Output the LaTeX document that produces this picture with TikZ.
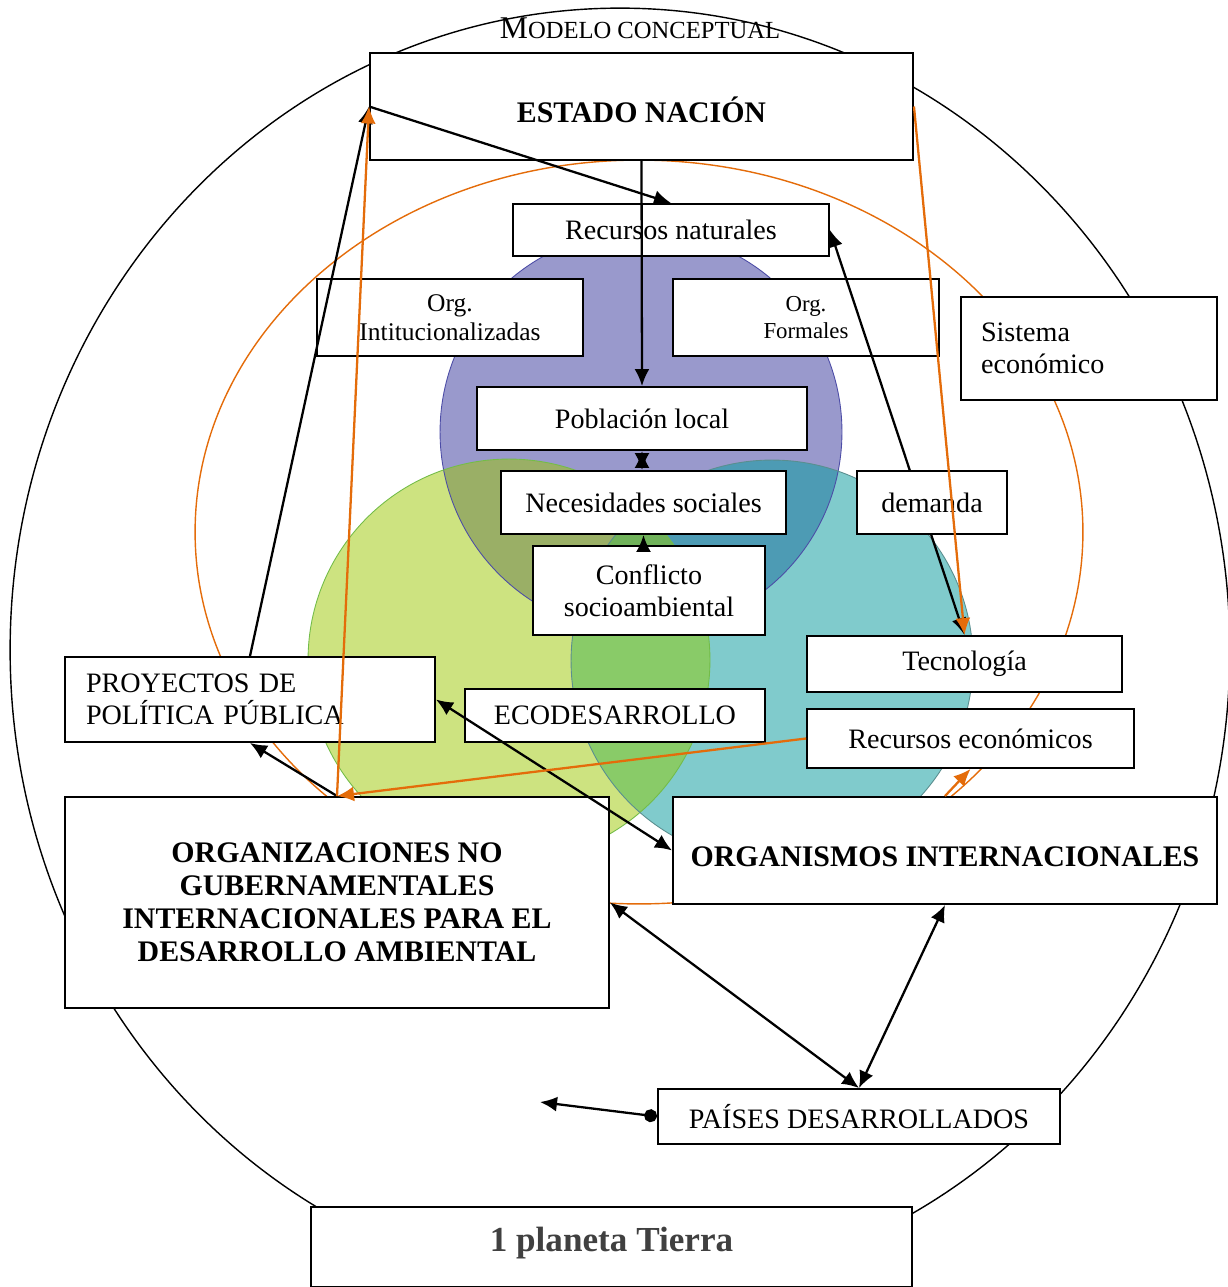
\documentclass[tikz,border=0pt]{standalone}
\usepackage{fontspec}
\setmainfont{Liberation Serif}
\usetikzlibrary{arrows.meta,calc}
\definecolor{naranja}{RGB}{228,108,10}
\definecolor{lila}{RGB}{153,153,204}
\definecolor{pasto}{RGB}{205,227,128}
\definecolor{turquesa}{RGB}{128,203,204}
\definecolor{oliva}{RGB}{154,175,102}
\definecolor{azulado}{RGB}{77,155,180}
\definecolor{verde}{RGB}{137,203,104}
\definecolor{centro}{RGB}{112,178,90}
\tikzset{
  caja/.style={draw,fill=white,line width=1.1pt,align=center,inner sep=2pt,font=\fontsize{16}{18.5}\selectfont},
  negrita/.style={font=\fontsize{17}{18.8}\selectfont\bfseries},
  enlace/.style={line width=1.3pt,>={Latex[length=0.34cm,width=0.3cm]}},
  naranjo/.style={enlace,draw=naranja},
  punto/.style={line width=1.3pt,{Circle[length=0.26cm]}-{Latex[length=0.34cm,width=0.3cm]}},
}

\begin{document}
\begin{tikzpicture}[x=0.02cm,y=-0.02cm]
\newcommand{\caja}[6][]{\node[caja,minimum width=#5*0.02cm,minimum height=#6*0.02cm,#1] (#2) at (#3,#4)}
\useasboundingbox (0,0) rectangle (1227,1287);
\draw[line width=0.8pt] (620,650) ellipse [x radius=12.2cm,y radius=12.84cm];
\draw[naranja,line width=0.8pt] (639,532) ellipse [x radius=8.88cm,y radius=7.44cm];
\fill[lila] (641,432) circle [radius=4.02cm];
\fill[pasto] (509,660) circle [radius=4.02cm];
\fill[turquesa] (772,661) circle [radius=4.02cm];
\begin{scope}
  \clip (509,660) circle [radius=4.02cm];
  \fill[verde] (772,661) circle [radius=4.02cm];
\end{scope}
\begin{scope}
  \clip (641,432) circle [radius=4.02cm];
  \fill[oliva] (509,660) circle [radius=4.02cm];
  \fill[azulado] (772,661) circle [radius=4.02cm];
  \clip (509,660) circle [radius=4.02cm];
  \fill[centro] (772,661) circle [radius=4.02cm];
\end{scope}
\draw[blue!50!black!70,line width=0.5pt] (641,432) circle [radius=4.02cm];
\draw[pasto!70!green!80!black,line width=0.5pt] (509,660) circle [radius=4.02cm];
\draw[turquesa!70!black,line width=0.5pt] (772,661) circle [radius=4.02cm];

\node (titulo) at (640,28) {{\fontsize{18}{20}\selectfont M}{\fontsize{14}{16}\selectfont ODELO CONCEPTUAL}};
\caja[negrita,text height=18pt,text depth=0pt]{estado}{641.5}{106.5}{543}{107} {ESTADO NACIÓN};
\caja{recnat}{671}{230}{316}{52} {Recursos naturales};
\caja[font=\fontsize{14.5}{16.5}\selectfont]{orginst}{450}{317.5}{266}{77} {Org.\\Intitucionalizadas};
\caja[font=\fontsize{13}{15.4}\selectfont]{orgform}{806}{317.5}{266}{77} {Org.\\Formales};
\caja[align=left,text width=4.32cm,inner xsep=0.4cm]{sistema}{1089}{348.5}{256}{103} {Sistema\\económico};
\caja{poblacion}{642}{418.5}{330}{63} {Población local};
\caja{necesidades}{643.5}{502.5}{285}{63} {Necesidades sociales};
\caja{conflicto}{649}{590.5}{232}{89} {Conflicto\\socioambiental};
\caja{tecnologia}{964.5}{664}{315}{56} {Tecnología};
\caja[align=left,text width=6.56cm,inner xsep=0.42cm]{proyectos}{250}{699.5}{370}{85} {PROYECTOS DE\\POLÍTICA PÚBLICA};
\caja{ecodesarrollo}{615}{715.5}{300}{53} {ECODESARROLLO};
\caja{receco}{970.5}{738.5}{327}{59} {Recursos económicos};
\caja[negrita]{ong}{337}{902.5}{544}{211} {ORGANIZACIONES NO\\GUBERNAMENTALES\\INTERNACIONALES PARA EL\\DESARROLLO AMBIENTAL};
\caja[negrita,text height=18pt,text depth=0pt]{organismos}{945}{850.5}{544}{107} {ORGANISMOS INTERNACIONALES};
\caja{paises}{859}{1116.5}{402}{55} {PAÍSES DESARROLLADOS};
\caja[font=\fontsize{20}{24}\selectfont\bfseries,text=black!75,text height=13.6pt,text depth=9pt]{planeta}{611.5}{1247}{601}{80} {1 planeta Tierra};

\draw[enlace,<->] (recnat.east) -- (tecnologia.north);
\caja{demanda}{932}{502.5}{150}{63} {demanda};

\coordinate (suelto) at (540,1102);
\draw[enlace,->] (estado.west) -- (recnat.north);
\draw[enlace,->] (estado.south) -- (poblacion.north);
\draw[enlace,<->] (poblacion.south) -- (poblacion.south |- necesidades.north);
\draw[enlace,->] (necesidades.south |- conflicto.north) -- (necesidades.south);
\draw[enlace,->] (proyectos.north) -- (estado.west);
\draw[enlace,<->] (proyectos.east) -- (organismos.west);
\draw[enlace,->] (ong.north) -- (proyectos.south);
\draw[enlace,<->] (ong.east) -- (paises.north);
\draw[enlace,<->] (organismos.south) -- (paises.north);
\draw[punto] (paises.west) -- (suelto);
\draw[naranjo,->] (ong.north) -- (estado.west);
\draw[naranjo,->] (receco.west) -- (ong.north);
\draw[naranjo,->] (estado.east) -- (tecnologia.north);
\draw[naranjo,->] (organismos.north) -- (receco.south);
\end{tikzpicture}
\end{document}
